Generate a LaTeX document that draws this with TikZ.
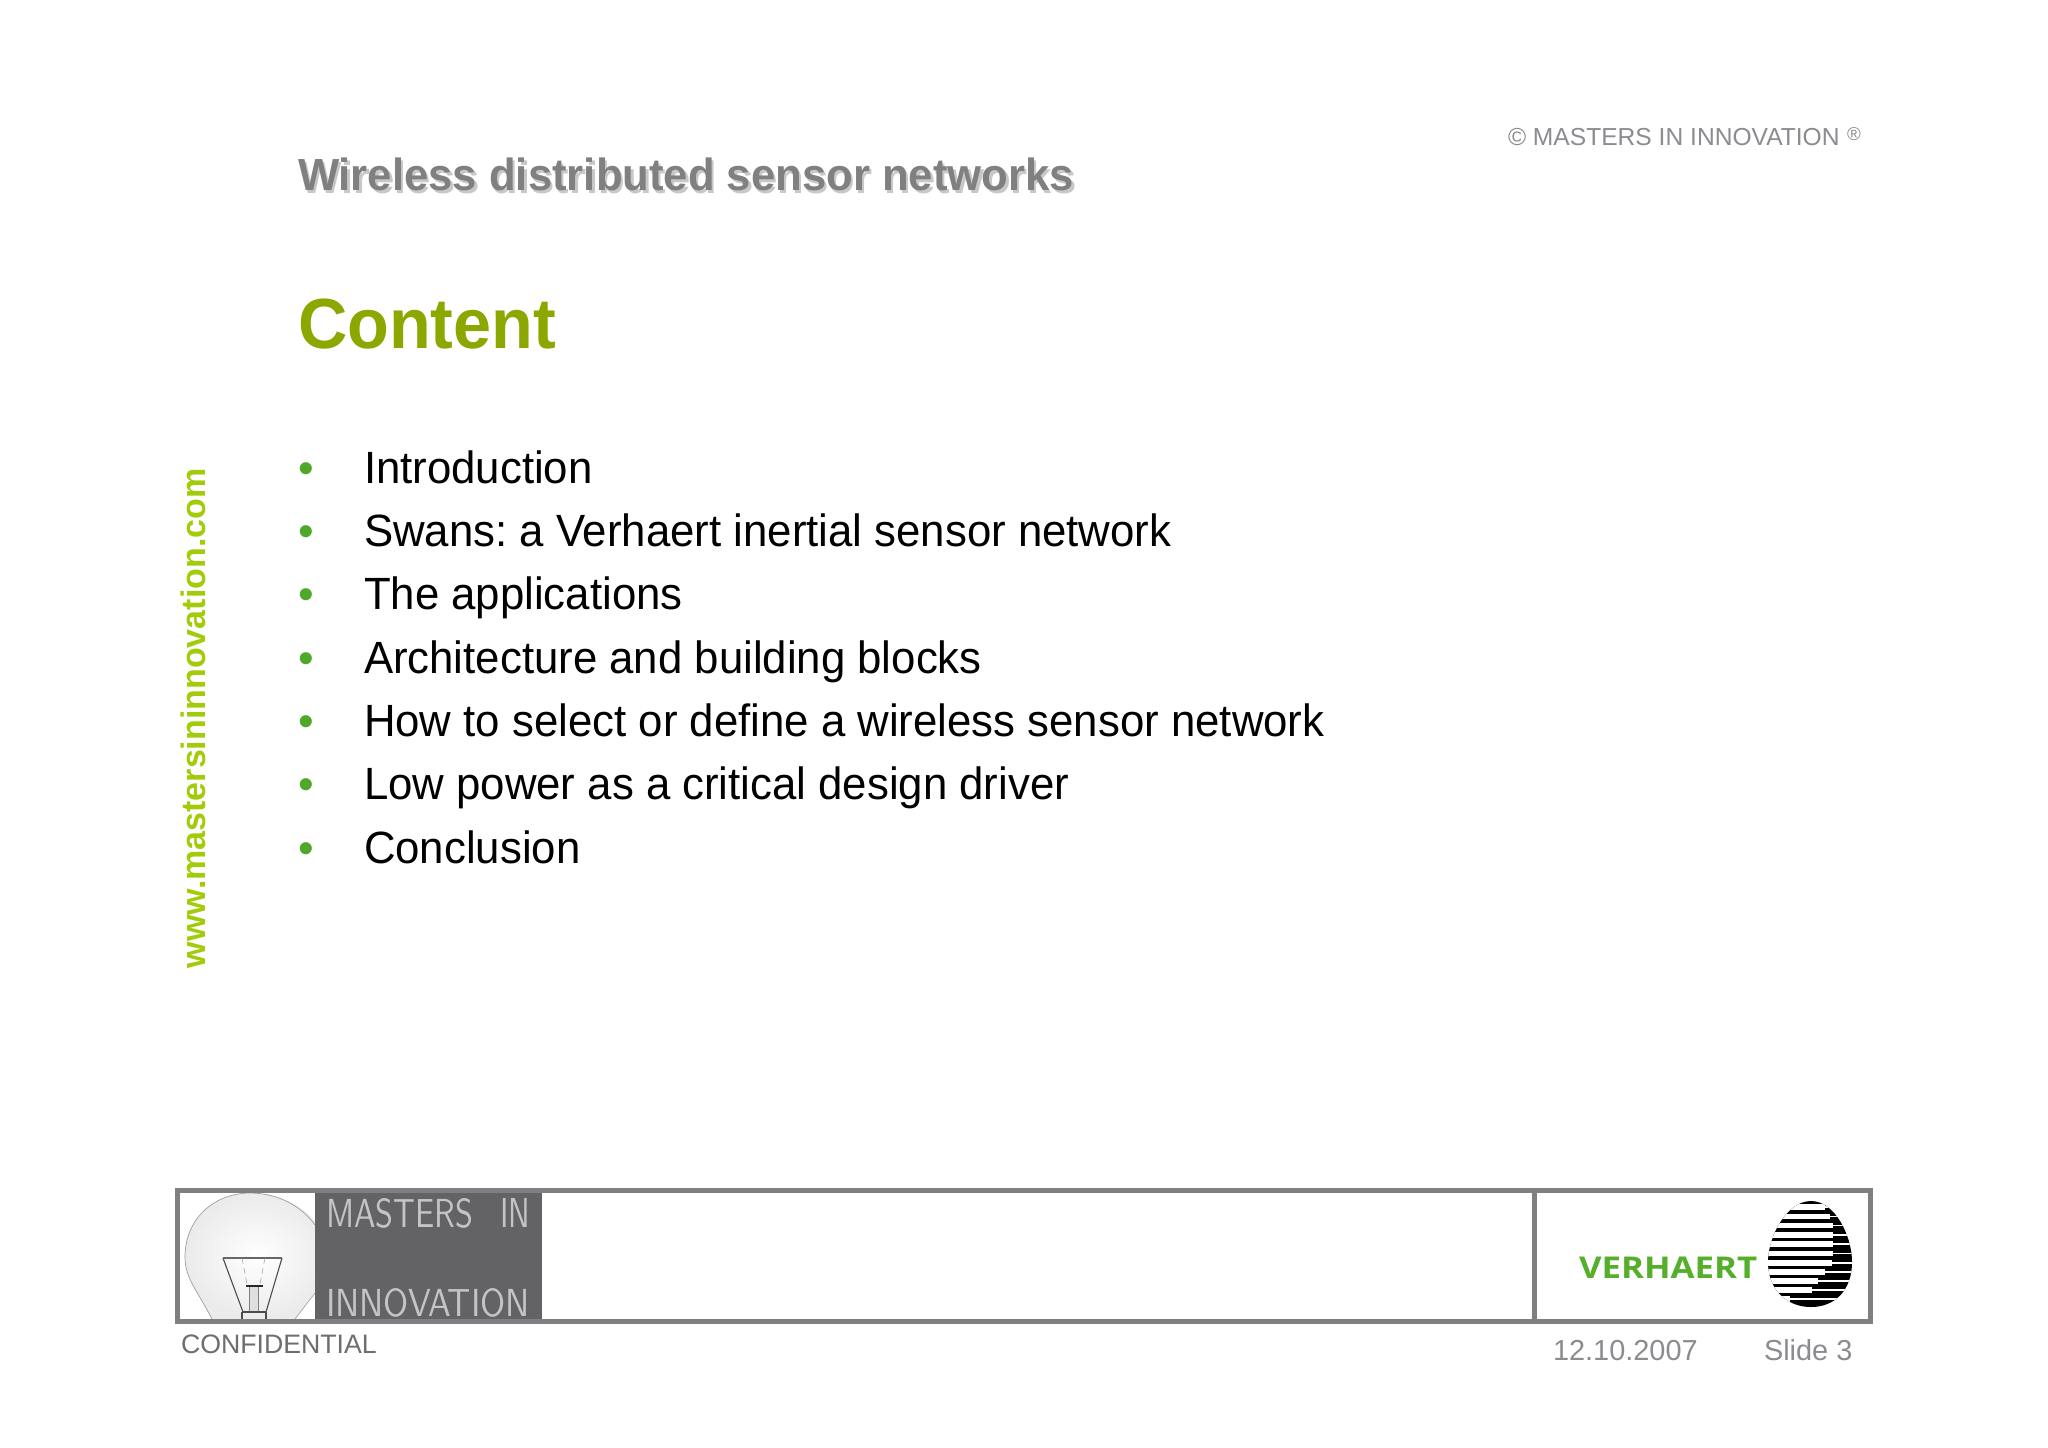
\documentclass[tikz,border=0pt]{standalone}
\usepackage{fontspec}
\usepackage{graphicx}
\setmainfont{Liberation Sans}
\setsansfont{Latin Modern Sans}
\newfontfamily\logofont{Open Sans}
\definecolor{framegray}{HTML}{808083}
\definecolor{titlegray}{HTML}{808080}
\definecolor{shadowgray}{HTML}{C8C8C8}
\definecolor{olive}{HTML}{8BA800}
\definecolor{webgreen}{HTML}{A2CC0A}
\definecolor{bulletgreen}{HTML}{4FA82A}
\definecolor{vgreen}{HTML}{55AF2A}
\definecolor{darkpanel}{HTML}{636366}
\definecolor{footgray}{HTML}{8C8C90}
\definecolor{confgray}{HTML}{6E6E70}
\definecolor{logotext}{HTML}{C4C4C6}
\newcommand{\fsz}[1]{\fontsize{#1}{#1}\selectfont}
\newcommand{\hs}[2]{\scalebox{#1}[1]{\frenchspacing #2}}
\tikzset{
  txt/.style={inner sep=0pt,outer sep=0pt,anchor=base west,text depth=0pt},
  item/.style={txt,font=\fsz{22.6},text=black},
  dot/.style={txt,font=\fsz{22.3},text=bulletgreen},
  bar/.style={draw=framegray,line width=2.5pt},
  lettering/.style={txt,font=\sffamily\fsz{10},text=logotext}
}
\begin{document}
\begin{tikzpicture}[x=0.5pt,y=-0.5pt]
\useasboundingbox (0,0) rectangle (2048,1447);
\fill[white] (0,0) rectangle (2048,1447);
% header
\node[txt,font=\fsz{12.3},text=footgray] (copy) at (1508,145) {© MASTERS IN INNOVATION};
\node[txt,font=\fsz{9.3},text=footgray] (reg) at (1847,140) {®};
\node[txt,font=\bfseries\fsz{22.5},text=shadowgray] (titleshadow) at (300.5,193) {\hs{.97}{Wireless distributed sensor networks}};
\node[txt,font=\bfseries\fsz{22.5},text=titlegray] (title) at (298,190.6) {\hs{.97}{Wireless distributed sensor networks}};
\node[txt,font=\bfseries\fsz{35.5},text=olive] (content) at (298,348) {\hs{.963}{Content}};
% side url
\node[txt,font=\bfseries\fsz{17},text=webgreen,rotate=90] (url) at (205,968) {www.mastersininnovation.com};
% list
\foreach \n/\y/\t in {a/483.5/Introduction,b/546.5/{Swans: a Verhaert inertial sensor network},c/609.5/The applications,d/673.5/Architecture and building blocks,e/736.5/How to select or define a wireless sensor network,f/799.5/Low power as a critical design driver,g/863.5/Conclusion}{
  \node[dot] (dot\n) at (298,\y) {•};
  \node[item] (item\n) at (364,\y) {\hs{.968}{\t}};
}
% bulb
\begin{scope}
\clip (180,1193) rectangle (315,1319);
\shade[inner color=white,outer color=black!8] (212,1319) .. controls (197,1290) and (185,1278) .. (185,1257) .. controls (185,1218) and (215,1193) .. (250,1193) .. controls (295,1193) and (330,1225) .. (330,1257) .. controls (330,1275) and (305,1305) .. (295,1319) -- cycle;
\draw[gray!75,line width=.35pt] (212,1319) .. controls (197,1290) and (185,1278) .. (185,1257) .. controls (185,1218) and (215,1193) .. (250,1193) .. controls (280,1193) and (303,1208) .. (315,1225);
\draw[gray!70,line width=.35pt] (315,1293) -- (295,1319);
\draw[black!70,line width=.55pt] (223,1258) -- (243,1312) (282,1258) -- (266,1312);
\draw[black!60,line width=.55pt] (223,1258) -- (282,1258);
\draw[gray!70,line width=.3pt,densely dashed] (242,1258) -- (247,1284) (265,1258) -- (260,1284);
\draw[black!85,line width=1.3pt] (246,1286) -- (263,1286);
\fill[gray!25] (249,1287) rectangle (258,1311);
\draw[gray,line width=.45pt] (249,1287) -- (249,1311) (258,1287) -- (258,1311);
\draw[black!70,line width=.55pt] (242,1312) -- (266,1312) (242,1312) -- (242,1319) (266,1312) -- (266,1319);
\end{scope}
% dark panel with lettering
\fill[darkpanel] (315,1193) rectangle (542,1319);
\node[lettering] (masters) at (326,1227) {\resizebox{73.5pt}{14.5pt}{MASTERS}};
\node[lettering] (in) at (500,1227) {\resizebox{15pt}{14.5pt}{IN}};
\node[lettering] (innov) at (326,1316) {\resizebox{102pt}{14pt}{INNOVATION}};
% frame
\draw[bar] (177.5,1190.5) rectangle (1870.5,1321.5);
\draw[bar] (1534.5,1190.5) -- (1534.5,1321.5);
% logo
\node[txt,font=\logofont\bfseries\fsz{15},text=vgreen] (verhaert) at (1579,1278) {\hs{1.16}{VERHAERT}};
\begin{scope}
\clip (1811,1201) .. controls (1835,1201) and (1852,1236) .. (1852,1262) .. controls (1852,1290) and (1835,1307) .. (1811,1307) .. controls (1787,1307) and (1768,1290) .. (1768,1262) .. controls (1768,1236) and (1787,1201) .. (1811,1201) -- cycle;
\fill[black] (1760,1195) rectangle (1860,1315);
\foreach \y/\w in {1207.2/1825,1216.3/1830,1225.6/1833,1234.8/1833,1244/1833,1253.5/1833,1263/1832,1272.2/1825,1281.2/1818,1290/1812,1298.8/1790}{
  \fill[white] (1760,\y-2.8) rectangle (\w,\y+2.8);
  \fill[white] (\w,\y-.8) rectangle (1860,\y+.8);
}
\end{scope}
% footer
\node[txt,font=\fsz{13.35},text=confgray] (conf) at (181,1353) {CONFIDENTIAL};
\node[txt,font=\fsz{14.45},text=footgray] (date) at (1553,1360) {12.10.2007};
\node[txt,font=\fsz{14.45},text=footgray] (slide) at (1764,1360) {Slide 3};
\end{tikzpicture}
\end{document}
